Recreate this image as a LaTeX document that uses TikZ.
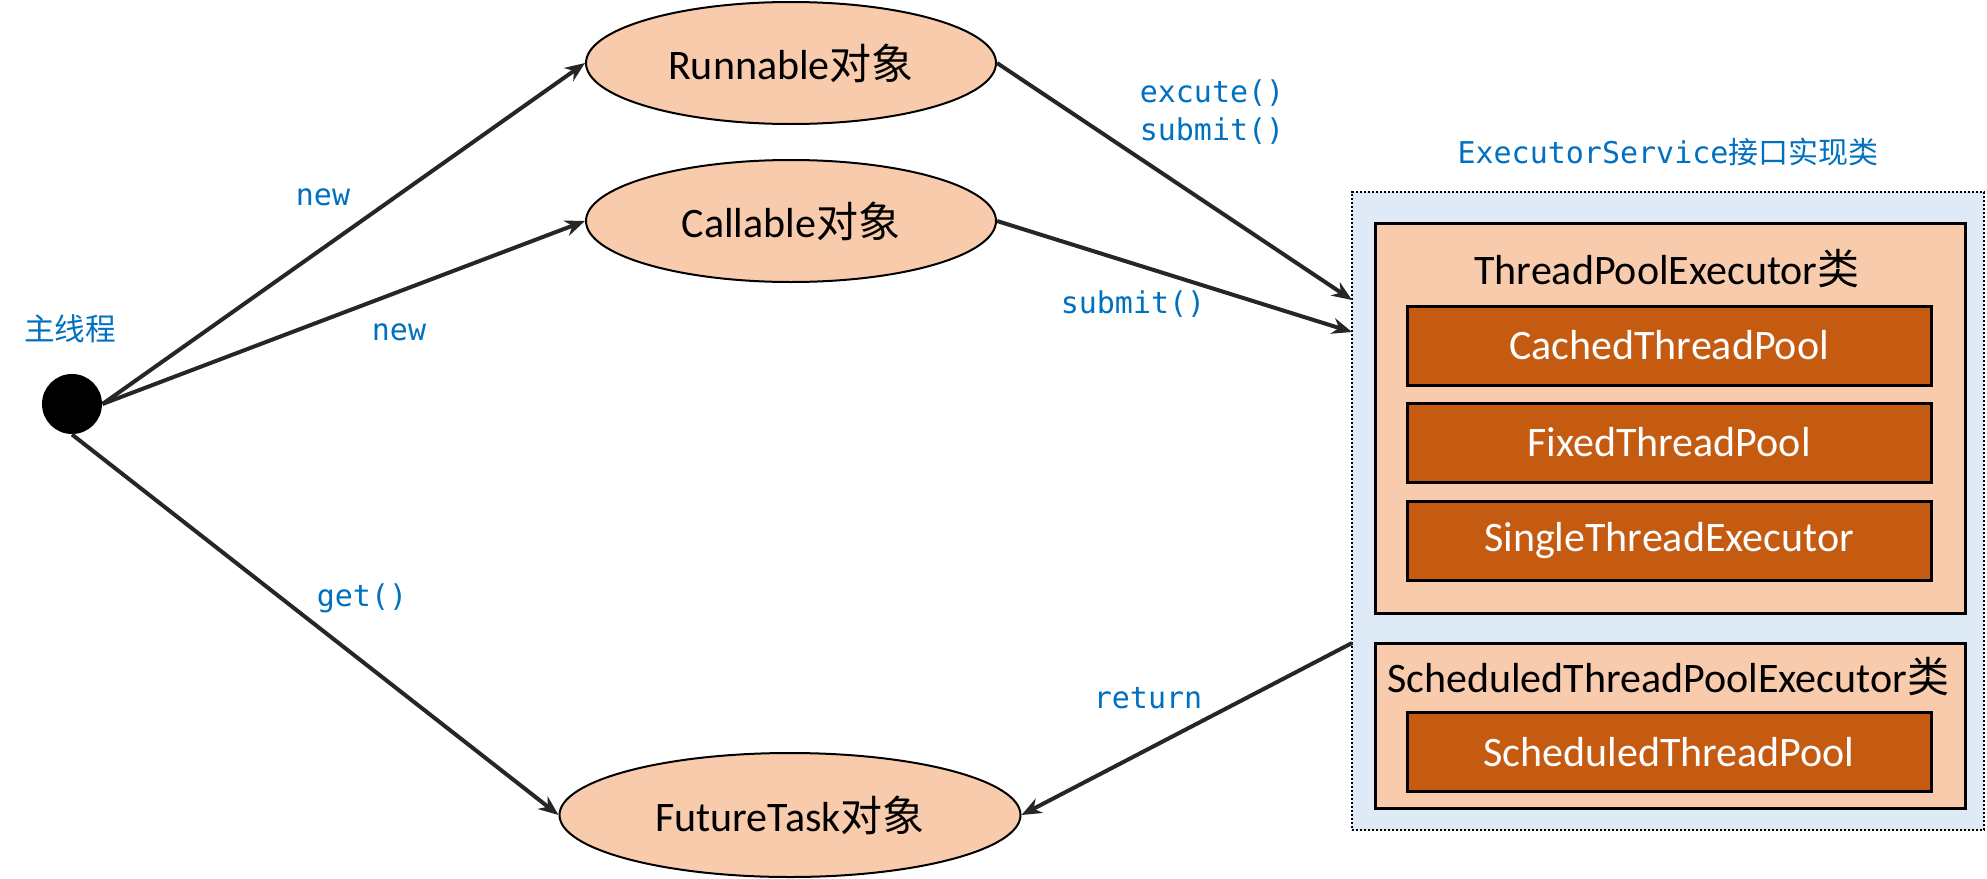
\documentclass[tikz,border=0pt]{standalone}
\usepackage{fontspec}
\setmainfont{Carlito}
\setmonofont{DejaVu Sans Mono}
\newfontfamily\cjk{Noto Sans CJK SC}
\usetikzlibrary{shapes.geometric,arrows.meta}

\definecolor{peach}{RGB}{248,203,173}
\definecolor{rust}{RGB}{197,90,17}
\definecolor{paleblue}{RGB}{222,235,247}
\definecolor{labelblue}{RGB}{0,112,192}
\definecolor{arrowgray}{RGB}{38,38,38}

\tikzset{every picture/.style={line width=0.75pt}}
\tikzset{
  objnode/.style={ellipse, draw, fill=peach, line width=1.5pt, inner sep=0pt,
    minimum width=307.5pt, minimum height=91.5pt, font=\fontsize{31.5}{36}\selectfont},
  classbox/.style={draw, fill=peach, line width=2.25pt, inner sep=0pt, minimum width=442.5pt},
  poolbox/.style={draw, fill=rust, text=white, line width=2.25pt, inner sep=0pt,
    minimum width=393pt, minimum height=59.25pt, font=\fontsize{31.5}{36}\selectfont},
  classtext/.style={inner sep=0pt, font=\fontsize{31.5}{36}\selectfont},
  calltext/.style={inner sep=0pt, text=labelblue, font=\ttfamily\fontsize{22.5}{28.5}\selectfont},
  callarrow/.style={draw=arrowgray, line width=3pt, -{Stealth[length=15pt,width=12pt]}},
}

\begin{document}
\begin{tikzpicture}[x=0.75pt,y=0.75pt,yscale=-1,xscale=1]
	\useasboundingbox (0,0) rectangle (1987,878);

	%Shape: Circle [id:main]
	\node (dot) [circle, fill=black, minimum size=45pt, inner sep=0pt] at (72,404) {};
	% Text Node
	\node (mainlbl) [inner sep=0pt, text=labelblue, font=\cjk\fontsize{23}{28}\selectfont] at (70,329) {主线程};

	%Shape: Ellipse [id:runnable]
	\node (runnable) [objnode] at (791,63) {Runnable{\cjk 对象}};
	%Shape: Ellipse [id:callable]
	\node (callable) [objnode] at (791,221) {Callable{\cjk 对象}};
	%Shape: Ellipse [id:future]
	\node (future) [objnode, minimum width=345.75pt, minimum height=93pt] at (790,815) {FutureTask{\cjk 对象}};

	%Shape: Rectangle [id:service]
	\node (service) [draw, fill=paleblue, line width=1.6pt, dash pattern={on 1.6pt off 1.4pt}, inner sep=0pt,
		minimum width=474pt, minimum height=478.5pt] at (1668,511) {};
	% Text Node
	\node (servicelbl) [calltext] at (1668,152) {ExecutorService{\cjk 接口实现类}};

	%Shape: Rectangle [id:tpe]
	\node (tpe) [classbox, minimum height=292.5pt] at (1670,418) {};
	\node (tpelbl) [classtext] at (1667,269) {ThreadPoolExecutor{\cjk 类}};
	\node (cached) [poolbox] at (1669,345.5) {CachedThreadPool};
	\node (fixed) [poolbox] at (1669,442.5) {FixedThreadPool};
	\node (single) [poolbox] at (1669,541) {SingleThreadExecutor};

	%Shape: Rectangle [id:stpe]
	\node (stpe) [classbox, minimum height=123.75pt] at (1670,725.5) {};
	\node (stpelbl) [classtext] at (1668,677) {ScheduledThreadPoolExecutor{\cjk 类}};
	\node (scheduled) [poolbox] at (1669,752) {ScheduledThreadPool};

	% connector ends on the service box
	\coordinate (in1) at (1352,300);
	\coordinate (in2) at (1352,332);
	\coordinate (out1) at (1352,643);

	%Straight Lines
	\draw [callarrow] (dot.east) -- (runnable.west);
	\draw [callarrow] (dot.east) -- (callable.west);
	\draw [callarrow] (dot.south) -- (future.west);
	\draw [callarrow] (runnable.east) -- (in1);
	\draw [callarrow] (callable.east) -- (in2);
	\draw [callarrow] (out1) -- (future.east);

	% Text Node
	\node (new1) [calltext] at (323,197) {new};
	% Text Node
	\node (new2) [calltext] at (399,332) {new};
	% Text Node
	\node (exec) [calltext, align=left] at (1212,112) {excute()\\submit()};
	% Text Node
	\node (submit) [calltext] at (1133,304) {submit()};
	% Text Node
	\node (get) [calltext] at (362,598) {get()};
	% Text Node
	\node (ret) [calltext] at (1148,698) {return};

\end{tikzpicture}
\end{document}
